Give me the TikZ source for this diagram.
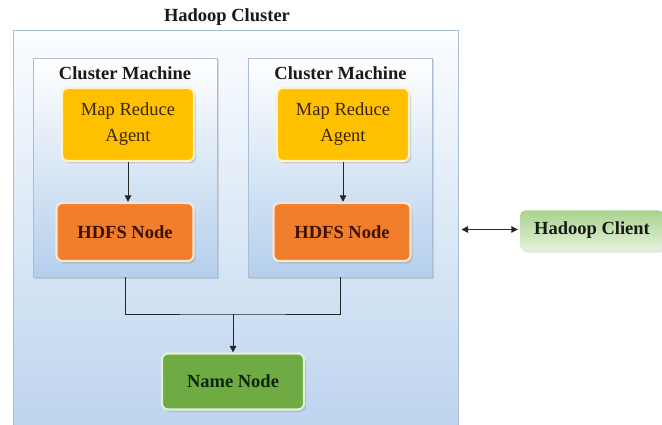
\documentclass[tikz,border=0pt]{standalone}
\usepackage{fontspec}
\setmainfont{Liberation Serif}
\usetikzlibrary{arrows.meta,shadows,calc}
\definecolor{outerbot}{HTML}{BDD4EE}
\definecolor{outertop}{HTML}{FBFDFF}
\definecolor{boxline}{HTML}{A9BDD6}
\definecolor{cmbot}{HTML}{B4CFEC}
\definecolor{mrafill}{HTML}{FFC000}
\definecolor{mraline}{HTML}{FFF2CC}
\definecolor{hdfsfill}{HTML}{F07E2A}
\definecolor{hdfsline}{HTML}{FCE4D3}
\definecolor{namefill}{HTML}{6EAC43}
\definecolor{nameline}{HTML}{E2F0D9}
\definecolor{clienttop}{HTML}{A9D38E}
\definecolor{clientbot}{HTML}{E4F1DB}
\definecolor{mratext}{HTML}{3A2600}
\definecolor{hdfstext}{HTML}{3F1200}
\definecolor{nametext}{HTML}{0E2605}
\tikzset{
  txt/.style={font=\fontsize{18.5}{26}\selectfont},
  boldtxt/.style={font=\fontsize{18.5}{26}\selectfont\bfseries},
  cmbox/.style={draw=boxline, line width=0.8pt, top color=white, bottom color=cmbot,
    minimum width=184pt, minimum height=219pt, inner sep=0pt,
    drop shadow={shadow xshift=1.5pt, shadow yshift=-1.5pt, opacity=0.25}},
  colbox/.style={rounded corners=6pt, line width=2.2pt, inner sep=0pt, align=center,
    drop shadow={shadow xshift=2pt, shadow yshift=-2.5pt, opacity=0.3}},
  mrabox/.style={colbox, draw=mraline, fill=mrafill, text=mratext, txt,
    minimum width=132pt, minimum height=73pt},
  hdfsbox/.style={colbox, draw=hdfsline, fill=hdfsfill, text=hdfstext, boldtxt,
    minimum width=137pt, minimum height=58pt},
  namebox/.style={colbox, draw=nameline, fill=namefill, text=nametext, boldtxt,
    minimum width=142pt, minimum height=56pt},
  clientbox/.style={rounded corners=5pt, draw=none, top color=clienttop, bottom color=clientbot,
    text=black!90, boldtxt, minimum width=144pt, minimum height=40pt, inner sep=0pt,
    drop shadow={shadow xshift=1.5pt, shadow yshift=-2pt, opacity=0.2}},
  conn/.style={draw=black!85, line width=1pt},
  tip/.tip={Triangle[length=6.5pt,width=6.5pt]},
  arr/.style={conn, -tip},
}
\begin{document}
\begin{tikzpicture}[x=1pt,y=-1pt]
\useasboundingbox (0,0) rectangle (662,425);
\fill[white] (0,0) rectangle (662,425);
% outer cluster
\node[draw=boxline, line width=1pt, top color=outertop, bottom color=outerbot,
  minimum width=445pt, minimum height=397pt, inner sep=0pt] (outer) at (235.5,229.5) {};
\node[boldtxt, text=black!90] (title) at (227,17) {Hadoop Cluster};
% cluster machines
\node[cmbox] (cm1) at (125,167.5) {};
\node[cmbox] (cm2) at (340.5,167.5) {};
\node[boldtxt, text=black!90] (cmt1) at (125,73) {Cluster Machine};
\node[boldtxt, text=black!90] (cmt2) at (340.5,73) {Cluster Machine};
% map reduce agents
\node[mrabox] (mra1) at (128,124.5) {Map Reduce\\Agent};
\node[mrabox] (mra2) at (343,124.5) {Map Reduce\\Agent};
% hdfs nodes
\node[hdfsbox] (hdfs1) at (125,232) {HDFS Node};
\node[hdfsbox] (hdfs2) at (342,232) {HDFS Node};
% name node
\node[namebox] (name) at (233,381.5) {Name Node};
% client
\node[clientbox] (client) at (592,230.5) {Hadoop Client};
% connectors
\draw[arr] (mra1.south) -- (mra1.south |- hdfs1.north);
\draw[arr] (mra2.south) -- (mra2.south |- hdfs2.north);
\coordinate (j) at (233,314);
\draw[conn] (cm1.south) |- (j) -| (cm2.south);
\draw[arr] (j) -- (name.north);
\coordinate (oe) at ($(outer.east |- client.west)+(3,-1)$);
\draw[conn, tip-tip] (oe) -- ($(client.west)+(-2,-1)$);
\end{tikzpicture}
\end{document}
